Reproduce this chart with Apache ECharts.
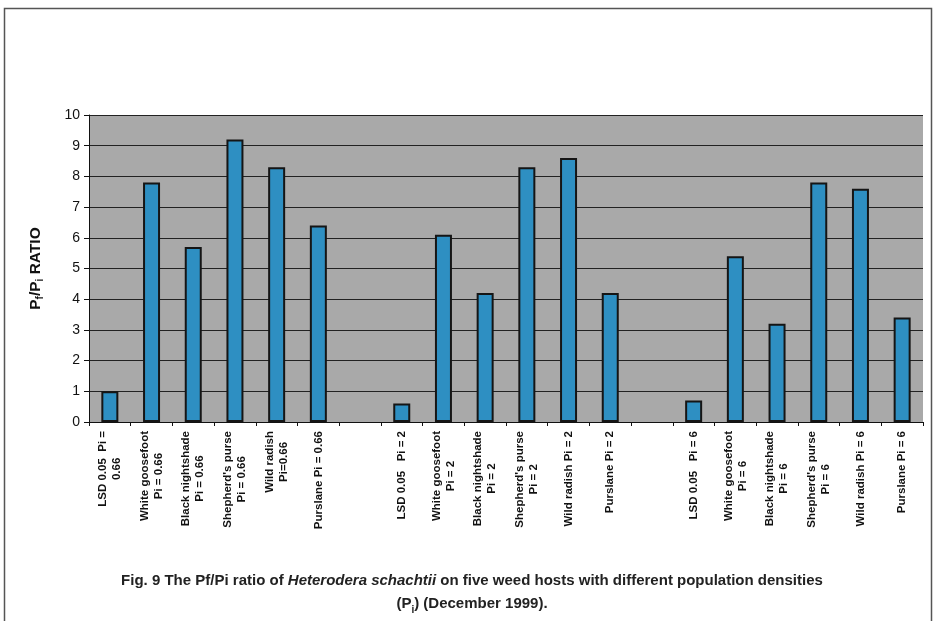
<!DOCTYPE html>
<html>
<head>
<meta charset="utf-8">
<script src="https://cdn.jsdelivr.net/npm/echarts@6/dist/echarts.min.js"></script>
<style>html,body{margin:0;padding:0;background:#fff;}#c{width:935px;height:621px;}</style>
</head>
<body>
<div id="c"></div>
<script>
const categories = [
  'LSD 0.05  Pi =\n0.66', 'White goosefoot\nPi = 0.66', 'Black nightshade\nPi = 0.66', "Shepherd's purse\nPi = 0.66", 'Wild radish\nPi=0.66', 'Purslane Pi = 0.66',
  '',
  'LSD 0.05   Pi = 2', 'White goosefoot\nPi = 2', 'Black nightshade\nPi = 2', "Shepherd's purse\nPi = 2", 'Wild radish Pi = 2', 'Purslane Pi = 2',
  ' ',
  'LSD 0.05   Pi = 6', 'White goosefoot\nPi = 6', 'Black nightshade\nPi = 6', "Shepherd's purse\nPi = 6", 'Wild radish Pi = 6', 'Purslane Pi = 6'
];
const ratios = [1.0, 7.8, 5.7, 9.2, 8.3, 6.4, null, 0.6, 6.1, 4.2, 8.3, 8.6, 4.2, null, 0.7, 5.4, 3.2, 7.8, 7.6, 3.4];
const yTicks = {min: 0, max: 10, interval: 1};

const FONT = "'Liberation Sans', Arial, sans-serif";
const chart = echarts.init(document.getElementById('c'), null, {renderer: 'canvas'});
chart.setOption({
  backgroundColor: '#ffffff',
  animation: false,
  graphic: [{
    type: 'rect', shape: {x: 4.5, y: 8.5, width: 927, height: 640},
    style: {fill: 'none', stroke: '#555', lineWidth: 1.5}, z: -1
  }],
  title: {
    left: 467, top: 564, textAlign: 'center',
    text: '{b|Fig. 9 The Pf/Pi ratio of }{i|Heterodera schachtii}{b| on five weed hosts with different population densities}\n{b|(P}{s|i}{b|) (December 1999).}',
    textStyle: {
      rich: {
        b: {fontFamily: FONT, fontWeight: 'bold', fontSize: 15, color: '#222', lineHeight: 23},
        i: {fontFamily: FONT, fontWeight: 'bold', fontStyle: 'italic', fontSize: 15, color: '#222', lineHeight: 23},
        s: {fontFamily: FONT, fontWeight: 'bold', fontSize: 10, color: '#222', lineHeight: 23, verticalAlign: 'bottom'}
      }
    }
  },
  grid: {left: 89, right: 12, top: 115, bottom: 199, show: true, backgroundColor: '#a9a9a9', borderWidth: 0},
  xAxis: {
    type: 'category',
    data: categories,
    boundaryGap: true,
    axisLine: {lineStyle: {color: '#111', width: 1}},
    axisTick: {show: true, length: 4, lineStyle: {color: '#111'}},
    axisLabel: {
      interval: 0, rotate: 90, margin: 9,
      formatter: v => v.trim() === '' ? '' : v.split('\n').map(l => '{c|' + l + '}').join('\n'),
      rich: {c: {align: 'center', fontFamily: FONT, fontWeight: 'bold', fontSize: 11.5, color: '#111', lineHeight: 14}}
    }
  },
  yAxis: {
    type: 'value', min: yTicks.min, max: yTicks.max, interval: yTicks.interval,
    name: '{t|P}{s|f}{t|/P}{s|i}{t| RATIO}',
    nameLocation: 'middle', nameGap: 44, nameRotate: 90,
    nameTextStyle: {
      rich: {
        t: {fontFamily: FONT, fontWeight: 'bold', fontSize: 15.5, color: '#111', lineHeight: 19},
        s: {fontFamily: FONT, fontWeight: 'bold', fontSize: 10, color: '#111', lineHeight: 19, verticalAlign: 'bottom'}
      }
    },
    axisLine: {show: true, lineStyle: {color: '#111'}},
    axisTick: {show: true, length: 5, lineStyle: {color: '#111'}},
    axisLabel: {fontFamily: FONT, fontSize: 14, color: '#111', margin: 9},
    splitLine: {show: true, lineStyle: {color: '#222', width: 1}}
  },
  series: [{
    type: 'bar',
    data: ratios,
    barWidth: 17,
    itemStyle: {color: '#2e8fc2', borderColor: '#151515', borderWidth: 2}
  }]
});
</script>
</body>
</html>
